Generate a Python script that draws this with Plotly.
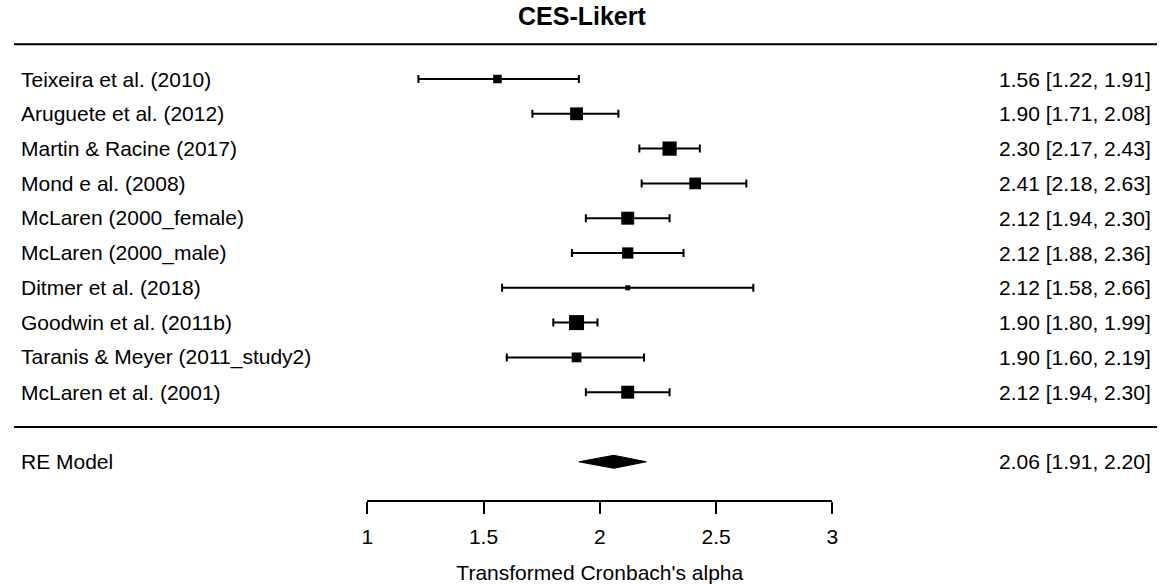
import numpy as np
import plotly.graph_objects as go

# Study-level results (transformed Cronbach's alpha with 95% CI)
studies = [
    "Teixeira et al. (2010)",
    "Aruguete et al. (2012)",
    "Martin & Racine (2017)",
    "Mond e al. (2008)",
    "McLaren (2000_female)",
    "McLaren (2000_male)",
    "Ditmer et al. (2018)",
    "Goodwin et al. (2011b)",
    "Taranis & Meyer (2011_study2)",
    "McLaren et al. (2001)",
]
estimates = [1.56, 1.90, 2.30, 2.41, 2.12, 2.12, 2.12, 1.90, 1.90, 2.12]
ci_lower = [1.22, 1.71, 2.17, 2.18, 1.94, 1.88, 1.58, 1.80, 1.60, 1.94]
ci_upper = [1.91, 2.08, 2.43, 2.63, 2.30, 2.36, 2.66, 1.99, 2.19, 2.30]

# Random-effects summary
re_label = "RE Model"
re_estimate = 2.06
re_lower = 1.91
re_upper = 2.20

tick_values = [1, 1.5, 2, 2.5, 3]
tick_labels = ["1", "1.5", "2", "2.5", "3"]

FONT = "Liberation Sans, Arial, sans-serif"
W, H = 1163, 585

est = np.array(estimates)
lo = np.array(ci_lower)
hi = np.array(ci_upper)
k = len(studies)
rows = np.arange(k, 0, -1)  # first study on top

# Square sizes follow random-effects weights (DerSimonian-Laird tau^2)
vi = ((hi - lo) / (2 * 1.96)) ** 2
wi = 1 / vi
ybar = np.sum(wi * est) / np.sum(wi)
Q = np.sum(wi * (est - ybar) ** 2)
C = np.sum(wi) - np.sum(wi ** 2) / np.sum(wi)
tau2 = max(0.0, (Q - (k - 1)) / C)
wr = 1 / (vi + tau2)
ps = (wr - wr.min()) / (wr.max() - wr.min())
marker_px = 10 * (ps + 0.5)

fig = go.Figure()

fig.add_trace(go.Scatter(
    x=est, y=rows, mode="markers",
    marker=dict(symbol="square", size=marker_px, color="#000000", opacity=1,
                line=dict(width=0)),
    error_x=dict(type="data", symmetric=False, array=hi - est, arrayminus=est - lo,
                 color="#000000", thickness=2, width=4),
    hoverinfo="skip", showlegend=False,
))

# Summary diamond
dh = 0.187
fig.add_trace(go.Scatter(
    x=[re_lower, re_estimate, re_upper, re_estimate, re_lower],
    y=[-1, -1 + dh, -1, -1 - dh, -1],
    mode="lines", fill="toself", fillcolor="black",
    line=dict(color="black", width=1), hoverinfo="skip", showlegend=False,
))

# Horizontal rules above the studies and above the summary row
for yr in (k + 1, 0):
    fig.add_shape(type="line", xref="paper", yref="y", x0=8 / W, x1=1,
                  y0=yr, y1=yr, line=dict(color="black", width=2))

text_font = dict(family=FONT, size=21, color="black")
left_x = 13 / W
right_x = 1159 / W
ann = []
for r, name, e, l, u in zip(rows, studies, estimates, ci_lower, ci_upper):
    ann.append(dict(xref="paper", yref="y", x=left_x, y=r, text=name,
                    xanchor="left", yanchor="middle", showarrow=False, font=text_font))
    ann.append(dict(xref="paper", yref="y", x=right_x, y=r,
                    text=f"{e:.2f} [{l:.2f}, {u:.2f}]",
                    xanchor="right", yanchor="middle", showarrow=False, font=text_font))
ann.append(dict(xref="paper", yref="y", x=left_x, y=-1, text=re_label,
                xanchor="left", yanchor="middle", showarrow=False, font=text_font))
ann.append(dict(xref="paper", yref="y", x=right_x, y=-1,
                text=f"{re_estimate:.2f} [{re_lower:.2f}, {re_upper:.2f}]",
                xanchor="right", yanchor="middle", showarrow=False, font=text_font))
ann.append(dict(xref="paper", yref="paper", x=582 / W, y=1 - 16 / H,
                text="<b>CES-Likert</b>", xanchor="center", yanchor="middle",
                showarrow=False, font=dict(family=FONT, size=25, color="black")))

row_step = 34.8
sep_px = 427
axis_px = 500
y_bottom = (sep_px - axis_px) / row_step
y_top = sep_px / row_step

fig.update_layout(
    width=W, height=H,
    margin=dict(l=0, r=0, t=0, b=0),
    paper_bgcolor="white", plot_bgcolor="white",
    annotations=ann,
    xaxis=dict(
        domain=[365 / W, 835 / W], range=[1, 3],
        tickvals=tick_values, ticktext=tick_labels,
        ticks="outside", ticklen=12, tickwidth=2, tickcolor="black",
        showline=True, linewidth=2, linecolor="black",
        showgrid=False, zeroline=False,
        tickfont=text_font, ticklabelstandoff=5,
        title=dict(text="Transformed Cronbach's alpha", font=text_font, standoff=18),
        anchor="y",
    ),
    yaxis=dict(domain=[(H - axis_px) / H, 1], range=[y_bottom, y_top],
               visible=False, fixedrange=True),
)

fig.write_html("out.html")
